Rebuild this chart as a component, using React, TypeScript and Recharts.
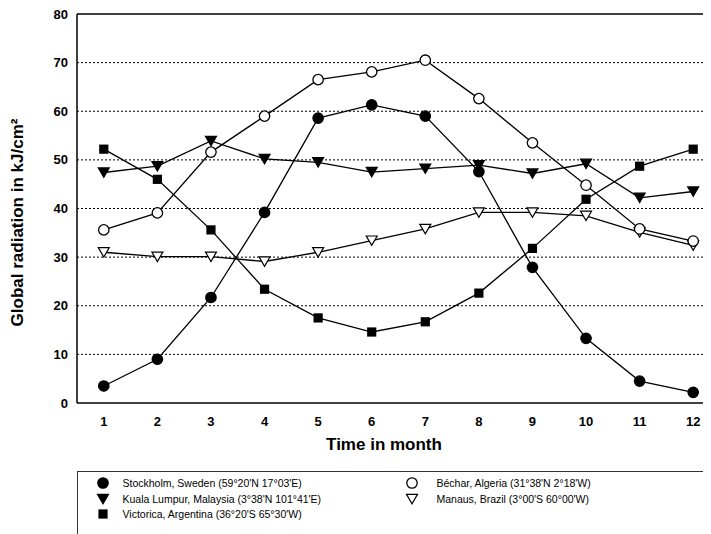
import { LineChart, Line, XAxis, YAxis, CartesianGrid, ReferenceLine, Label } from 'recharts';

const months = [1, 2, 3, 4, 5, 6, 7, 8, 9, 10, 11, 12];
const stockholm = [3.5, 9.0, 21.7, 39.2, 58.6, 61.3, 59.0, 47.6, 27.9, 13.3, 4.5, 2.2];
const bechar = [35.6, 39.1, 51.6, 59.0, 66.5, 68.1, 70.5, 62.6, 53.5, 44.8, 35.8, 33.3];
const kualaLumpur = [47.4, 48.7, 53.9, 50.2, 49.5, 47.5, 48.2, 48.9, 47.2, 49.2, 42.2, 43.5];
const victorica = [52.2, 46.0, 35.6, 23.4, 17.5, 14.6, 16.7, 22.6, 31.8, 41.9, 48.7, 52.2];
const manaus = [31.0, 30.1, 30.1, 29.1, 31.0, 33.4, 35.8, 39.2, 39.2, 38.5, 35.1, 32.4];
const yTicks = [0, 10, 20, 30, 40, 50, 60, 70, 80];
const gridValues = [10, 20, 30, 40, 50, 60, 70];

const FONT = '"Liberation Sans", Arial, sans-serif';

type Shape = 'circle' | 'triangle' | 'square';

const series: { key: string; name: string; shape: Shape; filled: boolean }[] = [
  { key: 'manaus', name: "Manaus, Brazil (3°00'S 60°00'W)", shape: 'triangle', filled: false },
  { key: 'kualaLumpur', name: "Kuala Lumpur, Malaysia (3°38'N 101°41'E)", shape: 'triangle', filled: true },
  { key: 'victorica', name: "Victorica, Argentina (36°20'S 65°30'W)", shape: 'square', filled: true },
  { key: 'bechar', name: "Béchar, Algeria (31°38'N 2°18'W)", shape: 'circle', filled: false },
  { key: 'stockholm', name: "Stockholm, Sweden (59°20'N 17°03'E)", shape: 'circle', filled: true },
];

const data = months.map((m, i) => ({
  month: m,
  stockholm: stockholm[i],
  bechar: bechar[i],
  kualaLumpur: kualaLumpur[i],
  victorica: victorica[i],
  manaus: manaus[i],
}));

function markerEl(shape: Shape, filled: boolean, cx: number, cy: number, key?: any) {
  const fill = filled ? '#000' : '#fff';
  if (shape === 'circle') {
    return <circle key={key} cx={cx} cy={cy} r={5.2} fill={fill} stroke="#000" strokeWidth={1.3} />;
  }
  if (shape === 'square') {
    return <rect key={key} x={cx - 4.6} y={cy - 4.6} width={9.2} height={9.2} fill="#000" />;
  }
  return (
    <polygon
      key={key}
      points={`${cx - 5.5},${cy - 4.6} ${cx + 5.5},${cy - 4.6} ${cx},${cy + 4.8}`}
      fill={fill}
      stroke="#000"
      strokeWidth={1.2}
      strokeLinejoin="miter"
    />
  );
}

const legendRows = [
  { s: 'stockholm', col: 0, row: 0 },
  { s: 'kualaLumpur', col: 0, row: 1 },
  { s: 'victorica', col: 0, row: 2 },
  { s: 'bechar', col: 1, row: 0 },
  { s: 'manaus', col: 1, row: 1 },
];

export default function App() {
  return (
    <div style={{ position: 'relative', width: 703, height: 526, overflow: 'hidden', fontFamily: FONT }}>
      <LineChart width={712} height={460} data={data} margin={{ top: 6, right: 0, bottom: 0, left: 0 }}>
        <CartesianGrid
          horizontal
          vertical={false}
          horizontalValues={gridValues}
          stroke="#000"
          strokeDasharray="2 2"
          strokeWidth={1}
        />
        <ReferenceLine y={80} stroke="#000" strokeWidth={1.5} />
        <XAxis
          dataKey="month"
          type="number"
          domain={[0.5, 12.5]}
          ticks={months}
          interval={0}
          tickLine={false}
          axisLine={{ stroke: '#000', strokeWidth: 1.5 }}
          tick={{ fontSize: 13, fontWeight: 'bold', fill: '#000', fontFamily: FONT }}
          tickMargin={8}
          height={65}
        >
          <Label
            content={() => (
              <text x={376} y={442} textAnchor="middle" fontSize={17} fontWeight="bold" fill="#000" fontFamily={FONT}>
                Time in month
              </text>
            )}
          />
        </XAxis>
        <YAxis
          type="number"
          domain={[0, 80]}
          ticks={yTicks}
          interval={0}
          width={69}
          tickLine={false}
          axisLine={{ stroke: '#000', strokeWidth: 1.5 }}
          tick={{ fontSize: 13, fontWeight: 'bold', fill: '#000', fontFamily: FONT }}
          tickMargin={3}
        >
          <Label
            content={() => (
              <text
                x={14.7}
                y={214.5}
                transform="rotate(-90, 14.7, 214.5)"
                textAnchor="middle"
                fontSize={17}
                fontWeight="bold"
                fill="#000"
                fontFamily={FONT}
              >
                Global radiation in kJ/cm²
              </text>
            )}
          />
        </YAxis>
        {series.map((s) => (
          <Line
            key={s.key}
            type="linear"
            dataKey={s.key}
            name={s.name}
            stroke="#000"
            strokeWidth={1.3}
            isAnimationActive={false}
            activeDot={false}
            dot={(p: any) => markerEl(s.shape, s.filled, p.cx, p.cy, `${s.key}-${p.index}`)}
          />
        ))}
      </LineChart>

      <div
        style={{
          position: 'absolute',
          left: 69,
          top: 462.5,
          width: 700,
          height: 90,
          border: '1.5px solid #333',
          boxSizing: 'border-box',
        }}
      >
        {legendRows.map(({ s, col, row }) => {
          const info = series.find((x) => x.key === s)!;
          const cy = 13.3 + row * 15.5 - 1.5;
          const mx = col === 0 ? 26 : 335;
          const tx = col === 0 ? 46 : 360;
          return (
            <div key={s}>
              <svg
                width={14}
                height={14}
                style={{ position: 'absolute', left: mx - 7 - 1.5, top: cy - 7 }}
              >
                {markerEl(info.shape, info.filled, 7, 7)}
              </svg>
              <span
                style={{
                  position: 'absolute',
                  left: tx - 1.5,
                  top: cy - 7,
                  lineHeight: '14px',
                  fontSize: 10.5,
                  color: '#000',
                  whiteSpace: 'nowrap',
                }}
              >
                {info.name}
              </span>
            </div>
          );
        })}
      </div>
    </div>
  );
}
